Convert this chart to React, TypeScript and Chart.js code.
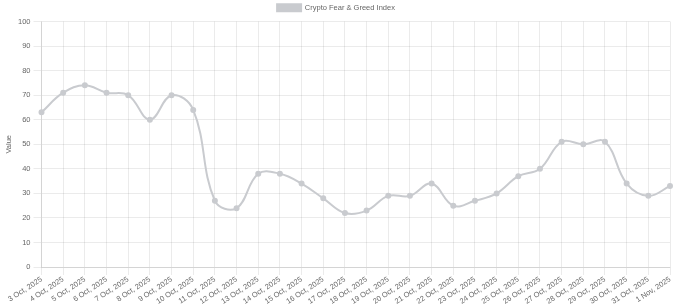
import React, { useEffect, useRef } from "react";
import { Chart, registerables } from "chart.js";

Chart.register(...registerables);

const categories: string[] = [
  "3 Oct, 2025", "4 Oct, 2025", "5 Oct, 2025", "6 Oct, 2025", "7 Oct, 2025",
  "8 Oct, 2025", "9 Oct, 2025", "10 Oct, 2025", "11 Oct, 2025", "12 Oct, 2025",
  "13 Oct, 2025", "14 Oct, 2025", "15 Oct, 2025", "16 Oct, 2025", "17 Oct, 2025",
  "18 Oct, 2025", "19 Oct, 2025", "20 Oct, 2025", "21 Oct, 2025", "22 Oct, 2025",
  "23 Oct, 2025", "24 Oct, 2025", "25 Oct, 2025", "26 Oct, 2025", "27 Oct, 2025",
  "28 Oct, 2025", "29 Oct, 2025", "30 Oct, 2025", "31 Oct, 2025", "1 Nov, 2025",
];

const fearGreedValues: number[] = [
  63, 71, 74, 71, 70, 60, 70, 64, 27, 24,
  38, 38, 34, 28, 22, 23, 29, 29, 34, 25,
  27, 30, 37, 40, 51, 50, 51, 34, 29, 33,
];

const seriesLabel = "Crypto Fear & Greed Index";
const yTitle = "Value";

export default function App() {
  const canvasRef = useRef<HTMLCanvasElement | null>(null);

  useEffect(() => {
    document.body.style.margin = "0";
    const ctx = canvasRef.current;
    if (!ctx) return;
    const grey = "rgb(201, 203, 207)";
    const chart = new Chart(ctx, {
      type: "line",
      data: {
        labels: categories,
        datasets: [
          {
            label: seriesLabel,
            data: fearGreedValues,
            borderColor: grey,
            backgroundColor: grey,
            borderWidth: 2,
            pointRadius: 2,
            pointBackgroundColor: grey,
            pointBorderColor: grey,
            tension: 0.4,
            fill: false,
          },
        ],
      },
      options: {
        animation: false,
        responsive: false,
        maintainAspectRatio: false,
        layout: { padding: { left: 2, right: 10, top: 0, bottom: 0 } },
        plugins: {
          legend: {
            display: true,
            labels: { color: "#666", font: { size: 7.5 }, boxWidth: 24, boxHeight: 7, padding: 4 },
          },
          tooltip: { enabled: false },
        },
        scales: {
          x: {
            ticks: { color: "#666", font: { size: 7.5 }, autoSkip: false, minRotation: 33, maxRotation: 33, padding: 0 },
            grid: { color: "rgba(0,0,0,0.08)" },
          },
          y: {
            min: 0,
            max: 100,
            ticks: { stepSize: 10, color: "#666", font: { size: 7.5 } },
            grid: { color: "rgba(0,0,0,0.08)" },
            title: { display: true, text: yTitle, color: "#666", font: { size: 7.5 }, padding: 2 },
          },
        },
      },
    });
    return () => chart.destroy();
  }, []);

  return (
    <div style={{ position: "fixed", left: 0, top: 0, width: 680, height: 306 }}>
      <canvas ref={canvasRef} width={680} height={306} style={{ width: 680, height: 306 }} />
    </div>
  );
}
